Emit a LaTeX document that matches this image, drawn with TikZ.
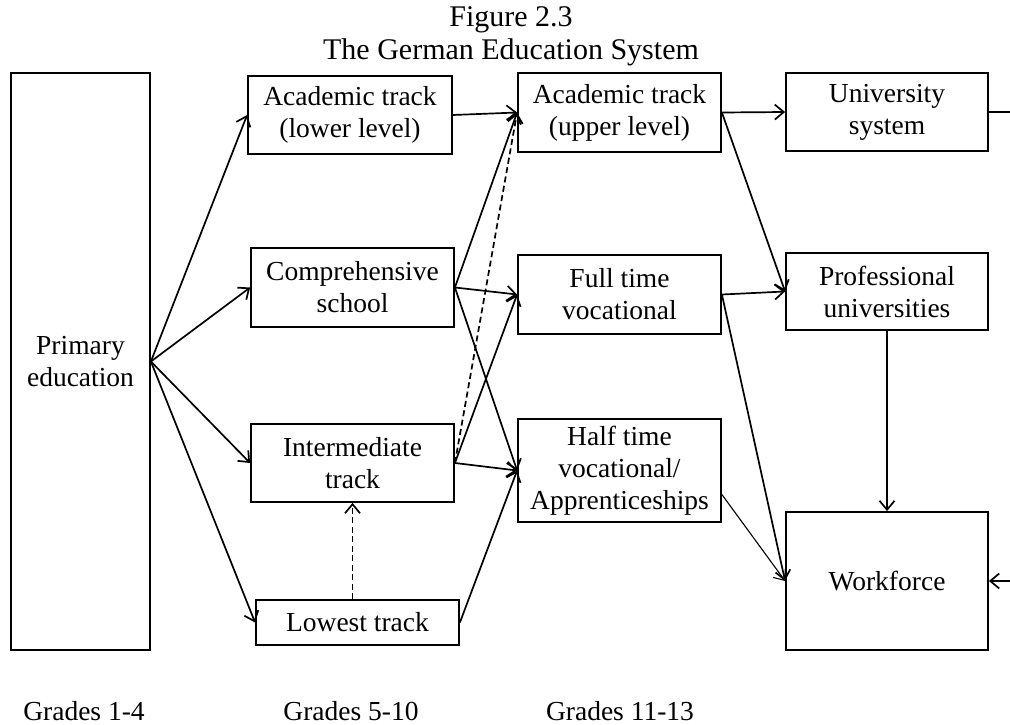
\documentclass[tikz,border=0pt]{standalone}
\usepackage{fontspec}
\setmainfont{Liberation Serif}
\usetikzlibrary{arrows.meta,calc}
\tikzset{
  box/.style={draw, line width=1.8pt, align=center, inner sep=0pt,
    font=\fontsize{27.5}{32}\selectfont},
  arr/.style={line width=1.7pt, -{Straight Barb[length=9pt,width=15pt,line width=1.7pt]}},
  thinarr/.style={line width=1.1pt, -{Straight Barb[length=9pt,width=15pt,line width=1.1pt]}},
  dasharr/.style={arr, dash pattern=on 6pt off 3.5pt},
  plain/.style={line width=1.7pt},
  titletext/.style={font=\fontsize{30}{34}\selectfont, anchor=base},
  gradetext/.style={font=\fontsize{27.5}{32}\selectfont, anchor=base}
}
\begin{document}
\begin{tikzpicture}[x=1pt,y=-1pt]
\useasboundingbox (0,0) rectangle (1010,725);
\clip (0,0) rectangle (1010,725);
\fill[white] (0,0) rectangle (1010,725);

% title
\node[titletext] (t1) at (511,27) {Figure 2.3};
\node[titletext] (t2) at (511,60) {The German Education System};

% boxes
\node[box, minimum width=139pt, minimum height=577pt] (prim) at (80.5,361.5) {Primary\\education};
\node[box, minimum width=204pt, minimum height=78pt] (acl) at (350,115) {Academic track\\(lower level)};
\node[box, minimum width=203pt, minimum height=79pt] (comp) at (352.5,287.5) {Comprehensive\\school};
\node[box, minimum width=203pt, minimum height=78pt] (inter) at (352.5,463) {Intermediate\\track};
\node[box, minimum width=203pt, minimum height=45pt] (low) at (357.5,622.5) {Lowest track};
\node[box, minimum width=203pt, minimum height=79pt] (acu) at (619.5,112.5) {Academic track\\(upper level)};
\node[box, minimum width=203pt, minimum height=79pt] (full) at (619.5,294.5) {Full time\\vocational};
\node[box, minimum width=203pt, minimum height=103pt] (half) at (619.5,470.5) {Half time\\vocational/\\Apprenticeships};
\node[box, minimum width=202pt, minimum height=78pt] (univ) at (887,112) {University\\system};
\node[box, minimum width=202pt, minimum height=77pt] (prof) at (887,291.5) {Professional\\universities};
\node[box, minimum width=202pt, minimum height=138pt] (work) at (887,581) {Workforce};

% grade labels
\node[gradetext] (g1) at (84,720) {Grades 1-4};
\node[gradetext] (g2) at (351,720) {Grades 5-10};
\node[gradetext] (g3) at (620,720) {Grades 11-13};

% primary to grades 5-10 tracks
\draw[arr] (prim.east) -- (acl.west);
\draw[arr] (prim.east) -- (comp.west);
\draw[arr] (prim.east) -- (inter.west);
\draw[arr] (prim.east) -- (low.west);

% grades 5-10 to grades 11-13
\draw[arr] (acl.east) -- (acu.west);
\draw[arr] (comp.east) -- (acu.west);
\draw[arr] (comp.east) -- (full.west);
\draw[arr] (comp.east) -- (half.west);
\draw[dasharr] (inter.east) -- (acu.west);
\draw[arr] (inter.east) -- (full.west);
\draw[arr] (inter.east) -- (half.west);
\draw[arr] (low.east) -- (half.west);
\draw[dasharr] (low.north -| inter.south) -- (inter.south);

% upper stage
\draw[arr] (acu.east) -- (univ.west);
\draw[arr] (acu.east) -- (prof.west);
\draw[arr] (full.east) -- (prof.west);
\draw[arr] (full.east) -- (work.west);
\draw[thinarr] ([yshift=-24pt]half.east) -- (work.west);
\draw[arr] (prof.south) -- (work.north);

% return path from university system to workforce
\coordinate (edgeR) at (1030,112);
\draw[plain] (univ.east) -- (edgeR);
\draw[arr] (edgeR) |- (work.east);
\end{tikzpicture}
\end{document}
